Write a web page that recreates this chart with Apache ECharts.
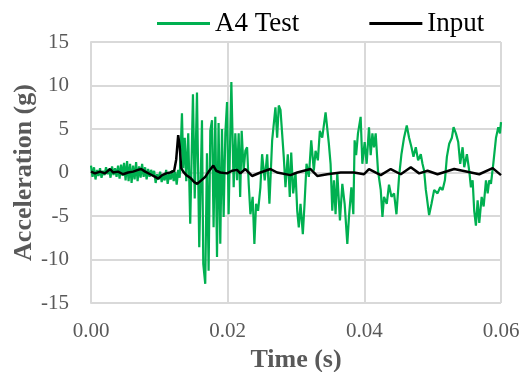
<!DOCTYPE html>
<html>
<head>
<meta charset="utf-8">
<script src="https://cdn.jsdelivr.net/npm/echarts@6/dist/echarts.min.js"></script>
<style>
html,body{margin:0;padding:0;background:#fff;}
#chart{width:522px;height:372px;}
</style>
</head>
<body>
<div id="chart"></div>
<script>
var seriesNames = ['A4 Test', 'Input'];
var xTicks = [0, 0.02, 0.04, 0.06];
var yTicks = [-15, -10, -5, 0, 5, 10, 15];

var testTime = [0,0.00022,0.00044,0.00066,0.00088,0.00110,0.00132,0.00154,0.00176,0.00198,0.00220,0.00242,0.00264,0.00286,0.00308,0.00330,0.00352,0.00374,0.00396,0.00418,0.00440,0.00462,0.00484,0.00506,0.00528,0.00550,0.00572,0.00594,0.00616,0.00638,0.00660,0.00682,0.00704,0.00726,0.00748,0.00770,0.00792,0.00814,0.00836,0.00858,0.00880,0.00902,0.00924,0.00946,0.00968,0.00990,0.01012,0.01034,0.01056,0.01078,0.01100,0.01122,0.01144,0.01166,0.01188,0.01210,0.01232,0.01254,0.01276,0.01298,
0.01331,0.01350,0.01372,0.01394,0.01423,0.01452,0.01492,0.01518,0.01551,0.01584,0.01624,0.01643,0.01672,0.01697,0.01721,0.01746,0.01771,0.01794,0.01819,0.01844,0.01867,0.01892,0.01917,0.01941,0.01966,0.01991,0.02014,0.02054,0.02088,0.02112,0.02137,0.02161,0.02183,0.02205,0.02234,0.02259,0.02284,0.02308,0.02333,0.02366,0.02391,0.02416,0.02445,0.02479,0.02504,0.02542,0.02578,0.02611,0.02651,0.02699,0.02724,0.02748,0.02773,0.02821,0.02846,0.02880,0.02909,0.02930,0.02959,0.02993,0.03018,0.03041,0.03066,0.03100,0.03125,0.03154,0.03188,0.03223,0.03261,0.03286,0.03320,0.03349,0.03384,0.03433,0.03481,0.03506,0.03531,0.03555,0.03579,0.03604,0.03643,0.03678,0.03712,0.03751,0.03775,0.03810,0.03839,0.03858,0.03880,0.03907,0.03946,0.03971,0.04005,0.04034,0.04068,0.04093,0.04118,0.04141,0.04166,0.04200,0.04240,0.04265,0.04288,0.04328,0.04361,0.04397,0.04435,0.04470,0.04508,0.04543,0.04581,0.04621,0.04655,0.04690,0.04719,0.04753,0.04787,0.04826,0.04851,0.04875,0.04900,0.04914,0.04948,0.04983,0.05022,0.05071,0.05110,0.05145,0.05179,0.05208,0.05242,0.05281,0.05306,0.05340,0.05374,0.05403,0.05438,0.05462,0.05501,0.05535,0.05560,0.05585,0.05608,0.05633,0.05658,0.05682,0.05717,0.05746,0.05780,0.05805,0.05828,0.05853,0.05887,0.05927,0.05960,0.05985,0.06000];

var testAccel = [0.8,-0.5,0.6,-0.8,0.3,-0.4,0.5,-0.6,0.2,-0.3,0.6,-0.2,0.4,-0.6,0.7,-0.3,0.5,-0.5,0.8,-0.7,0.9,-0.4,1.1,-0.9,1.3,-1.0,1.0,-1.2,0.8,-0.8,1.2,-1.0,0.7,-0.6,1.0,-0.5,0.6,-0.8,0.4,-0.5,0.3,-0.3,0.2,-1.2,-0.2,-0.8,0.1,-1.1,-0.3,-0.9,0.3,-1.3,-0.2,-0.8,0.2,-1.0,0.1,-1.4,0.3,-0.6,
6.8,0.5,4.0,-1.0,4.5,-5.9,9.0,-3.0,9.2,-8.6,6.0,-10.5,-12.8,2.2,-11.3,4.8,6.0,-6.3,6.4,-9.7,5.7,-8.2,5.0,-5.1,4.5,8.1,-4.8,10.4,-1.7,4.5,-0.9,4.5,-2.8,4.8,0.2,2.5,2.9,-1.3,-4.8,-2.8,-8.2,-3.6,-4.4,-1.7,2.1,-0.9,2.1,-3.6,3.7,7.5,4.0,7.7,7.2,1.8,-1.7,2.1,-2.8,2.3,-2.4,0.0,-4.4,-6.3,-3.6,-7.1,-3.6,1.0,-0.5,3.7,0.2,2.5,1.4,4.8,4.0,6.9,3.3,1.0,-4.4,-0.9,-4.8,0.0,-5.5,-1.3,-3.6,-8.2,-5.1,-1.7,-4.8,3.7,2.0,4.5,6.4,1.0,3.5,1.0,5.2,2.0,4.5,2.9,4.5,0.2,-2.0,-5.1,-2.8,-3.6,-1.4,-2.8,-2.4,-4.8,-0.5,2.1,4.0,5.4,4.0,2.9,1.8,2.9,1.4,2.1,1.0,0.2,-2.0,-2.8,-4.9,-3.6,-2.0,-2.4,-1.7,-2.0,-0.9,1.8,3.3,4.0,5.2,4.5,3.5,1.0,2.9,0.6,2.1,0.2,-1.7,-0.9,-4.4,-6.1,-3.2,-5.8,-2.8,-3.9,-0.9,-2.4,-0.9,-1.3,1.0,4.0,5.2,4.5,5.8];

var inputTime = [0,0.00059,0.00132,0.00205,0.00279,0.00323,0.00396,0.00469,0.00543,0.00616,0.00689,0.00733,0.00792,0.00866,0.00939,0.00983,0.01042,0.01100,0.01159,0.01217,0.01247,0.01276,0.01298,0.01320,0.01350,0.01394,0.01452,0.01511,0.01555,0.01614,0.01672,0.01731,0.01790,0.01834,0.01892,0.01991,0.02064,0.02137,0.02186,0.02259,0.02357,0.02479,0.02626,0.02724,0.02919,0.03018,0.03213,0.03311,0.03458,0.03653,0.03848,0.03995,0.04068,0.04240,0.04386,0.04533,0.04680,0.04802,0.04925,0.05071,0.05315,0.05560,0.05682,0.05878,0.06000];

var inputAccel = [0.1,-0.1,0.1,-0.1,0.4,0.0,0.1,-0.2,0.0,0.1,0.3,0.4,0.1,-0.2,-0.5,-0.7,-0.3,-0.1,0.0,0.2,1.5,4.3,3.0,0.5,0.1,-0.3,-0.6,-1.1,-1.3,-0.9,-0.5,0.2,0.8,0.2,0.0,-0.1,0.2,0.3,-0.1,0.4,-0.4,0.0,0.4,0.0,-0.3,0.0,0.4,-0.4,-0.2,0.0,0.0,-0.2,0.4,-0.3,0.4,-0.2,0.6,-0.1,0.2,-0.2,0.4,0.0,-0.2,0.5,-0.3];

function pairs(xs, ys) { return xs.map(function (x, i) { return [x, ys[i]]; }); }

var FONT = 'Liberation Serif';
var chart = echarts.init(document.getElementById('chart'), null, {renderer: 'canvas'});
chart.setOption({
  backgroundColor: '#ffffff',
  animation: false,
  legend: {
    left: 152,
    top: 5,
    itemGap: 70,
    itemWidth: 53,
    itemHeight: 3,
    icon: 'rect',
    textStyle: {fontFamily: FONT, fontSize: 27, color: '#000'},
    data: seriesNames
  },
  grid: {left: 91, right: 21, top: 42, bottom: 69, containLabel: false, outerBoundsMode: 'none'},
  xAxis: {
    type: 'value',
    min: xTicks[0], max: xTicks[xTicks.length - 1], interval: 0.02,
    name: 'Time (s)', nameLocation: 'middle', nameGap: 43,
    nameTextStyle: {fontFamily: FONT, fontSize: 26, fontWeight: 'bold', color: '#595959'},
    axisLine: {show: true, lineStyle: {color: '#d9d9d9', width: 2}},
    axisTick: {show: false},
    axisLabel: {fontFamily: FONT, fontSize: 21, color: '#595959', margin: 18,
      formatter: function (v) { return v.toFixed(2); }},
    splitLine: {show: true, lineStyle: {color: '#d9d9d9', width: 2}}
  },
  yAxis: {
    type: 'value',
    min: yTicks[0], max: yTicks[yTicks.length - 1], interval: 5,
    name: 'Acceleration (g)', nameLocation: 'middle', nameGap: 54, nameMoveOverlap: false,
    nameTextStyle: {fontFamily: FONT, fontSize: 26, fontWeight: 'bold', color: '#595959'},
    axisLine: {show: true, lineStyle: {color: '#d9d9d9', width: 2}},
    axisTick: {show: false},
    axisLabel: {fontFamily: FONT, fontSize: 21, color: '#595959', margin: 22},
    splitLine: {show: true, lineStyle: {color: '#d9d9d9', width: 2}}
  },
  series: [
    {
      name: seriesNames[0], type: 'line', showSymbol: false, symbol: 'none',
      data: pairs(testTime, testAccel),
      lineStyle: {color: '#00b050', width: 2.2},
      itemStyle: {color: '#00b050'},
      z: 2
    },
    {
      name: seriesNames[1], type: 'line', showSymbol: false, symbol: 'none',
      data: pairs(inputTime, inputAccel),
      lineStyle: {color: '#000000', width: 2.5},
      itemStyle: {color: '#000000'},
      z: 3
    }
  ]
});
</script>
</body>
</html>
